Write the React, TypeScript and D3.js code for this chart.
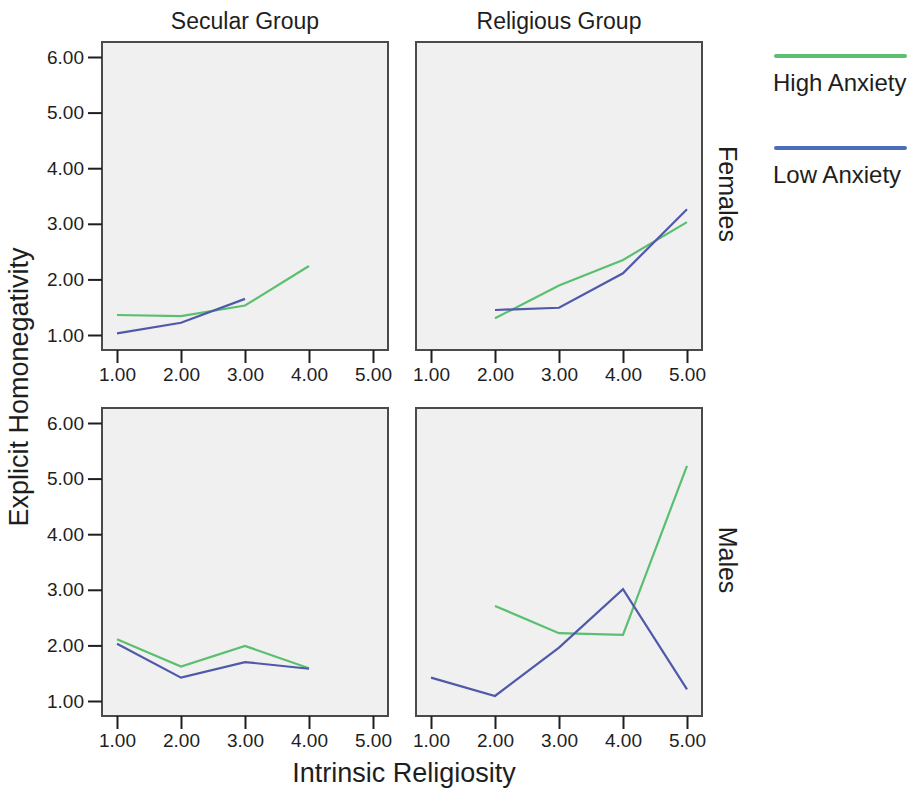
import React, { useEffect, useRef } from "react";
import * as d3 from "d3";

const groups = ["Secular Group", "Religious Group"];
const sexes = ["Females", "Males"];
const xTicks = [1, 2, 3, 4, 5];
const yTicks = [1, 2, 3, 4, 5, 6];
const seriesNames = ["High Anxiety", "Low Anxiety"];

// values per panel: [x, y]
const femSecHigh = [[1, 1.36], [2, 1.34], [3, 1.53], [4, 2.24]];
const femSecLow = [[1, 1.03], [2, 1.22], [3, 1.65]];
const femRelHigh = [[2, 1.3], [3, 1.89], [4, 2.35], [5, 3.03]];
const femRelLow = [[2, 1.45], [3, 1.49], [4, 2.11], [5, 3.26]];
const malSecHigh = [[1, 2.11], [2, 1.62], [3, 1.99], [4, 1.59]];
const malSecLow = [[1, 2.03], [2, 1.42], [3, 1.7], [4, 1.58]];
const malRelHigh = [[2, 2.71], [3, 2.22], [4, 2.19], [5, 5.23]];
const malRelLow = [[1, 1.42], [2, 1.09], [3, 1.96], [4, 3.01], [5, 1.21]];

export default function App() {
	const ref = useRef<SVGSVGElement>(null);

	useEffect(() => {
		const svg = d3.select(ref.current);
		svg.selectAll("*").remove();

		const font = "Liberation Sans, Arial, sans-serif";
		const ink = "#1e1e1e";
		const green = "#5abf6e";
		const blue = "#5058aa";
		const legendBlue = "#4a6fb8";

		const panels = [
			{ col: 0, row: 0, high: femSecHigh, low: femSecLow },
			{ col: 1, row: 0, high: femRelHigh, low: femRelLow },
			{ col: 0, row: 1, high: malSecHigh, low: malSecLow },
			{ col: 1, row: 1, high: malRelHigh, low: malRelLow }
		];

		const colLeft = [102, 416];
		const rowTop = [42, 408];
		const pw = 286;
		const ph = 308;

		panels.forEach((p) => {
			const left = colLeft[p.col];
			const top = rowTop[p.row];
			const g = svg.append("g").attr("transform", `translate(${left},${top})`);

			// 15px padding inside the frame
			const x = d3.scaleLinear().domain([1, 5]).range([15, pw - 15]);
			const y = d3.scaleLinear().domain([1, 6]).range([ph - 15, 15]);

			g.append("rect")
				.attr("width", pw)
				.attr("height", ph)
				.attr("fill", "#f0f0f0")
				.attr("stroke", "#4a4a4a")
				.attr("stroke-width", 2);

			const xAxis = d3.axisBottom(x).tickValues(xTicks).tickSize(13).tickPadding(5)
				.tickFormat((d) => d3.format(".2f")(d as number));
			const xg = g.append("g").attr("transform", `translate(0,${ph})`).call(xAxis);
			xg.attr("font-size", null).attr("font-family", null);
			xg.select(".domain").remove();
			xg.selectAll("line").attr("stroke", ink).attr("stroke-width", 2);
			xg.selectAll("text").attr("font-family", font).attr("font-size", 19).attr("fill", ink);

			if (p.col === 0) {
				const yAxis = d3.axisLeft(y).tickValues(yTicks).tickSize(14).tickPadding(4)
					.tickFormat((d) => d3.format(".2f")(d as number));
				const yg = g.append("g").call(yAxis);
				yg.attr("font-size", null).attr("font-family", null);
				yg.select(".domain").remove();
				yg.selectAll("line").attr("stroke", ink).attr("stroke-width", 2);
				yg.selectAll("text").attr("font-family", font).attr("font-size", 19).attr("fill", ink);
			}

			const line = d3.line<number[]>().x((d) => x(d[0])).y((d) => y(d[1]));
			g.append("path").datum(p.high).attr("d", line).attr("fill", "none")
				.attr("stroke", green).attr("stroke-width", 2.2);
			g.append("path").datum(p.low).attr("d", line).attr("fill", "none")
				.attr("stroke", blue).attr("stroke-width", 2.2);
		});

		// column titles
		groups.forEach((name, i) => {
			svg.append("text")
				.attr("x", colLeft[i] + pw / 2)
				.attr("y", 29)
				.attr("text-anchor", "middle")
				.attr("font-family", font)
				.attr("font-size", 23)
				.attr("fill", ink)
				.text(name);
		});

		// row labels, rotated clockwise
		const rowCenters = [194, 560];
		sexes.forEach((name, i) => {
			svg.append("text")
				.attr("transform", `translate(719,${rowCenters[i]}) rotate(90)`)
				.attr("text-anchor", "middle")
				.attr("font-family", font)
				.attr("font-size", 25)
				.attr("fill", ink)
				.text(name);
		});

		// axis titles
		svg.append("text")
			.attr("transform", "translate(28,387) rotate(-90)")
			.attr("text-anchor", "middle")
			.attr("font-family", font)
			.attr("font-size", 27)
			.attr("fill", ink)
			.text("Explicit Homonegativity");

		svg.append("text")
			.attr("x", 404)
			.attr("y", 782)
			.attr("text-anchor", "middle")
			.attr("font-family", font)
			.attr("font-size", 27)
			.attr("fill", ink)
			.text("Intrinsic Religiosity");

		// legend
		const legendColors = [green, legendBlue];
		seriesNames.forEach((name, i) => {
			const ly = 56 + i * 92;
			svg.append("line")
				.attr("x1", 776).attr("x2", 905)
				.attr("y1", ly).attr("y2", ly)
				.attr("stroke", legendColors[i])
				.attr("stroke-width", 4)
				.attr("stroke-linecap", "round");
			svg.append("text")
				.attr("x", 773)
				.attr("y", ly + 35)
				.attr("font-family", font)
				.attr("font-size", 24)
				.attr("fill", ink)
				.text(name);
		});
	}, []);

	return (
		<svg
			ref={ref}
			width={921}
			height={790}
			style={{ position: "absolute", left: 0, top: 0, background: "#fff" }}
		/>
	);
}
